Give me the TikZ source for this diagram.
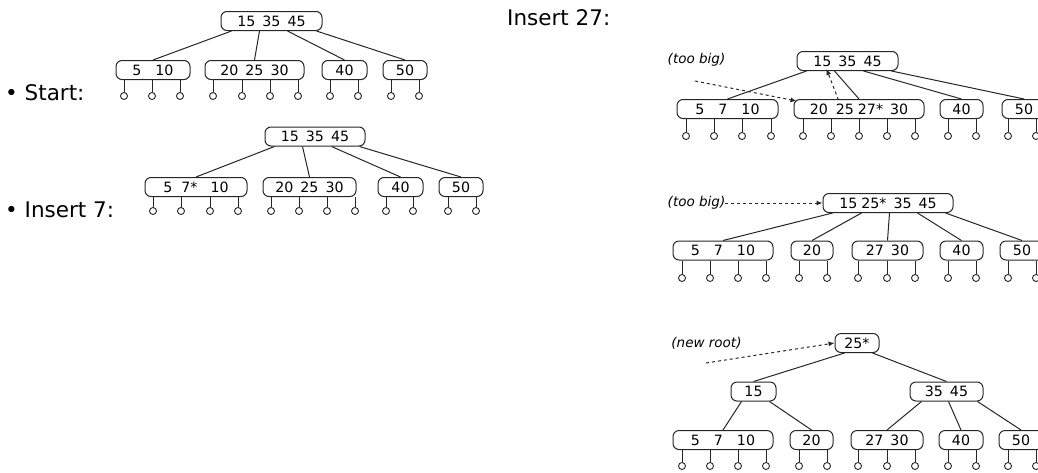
\documentclass[tikz,border=0pt]{standalone}
\usepackage{fontspec}
\setmainfont{DejaVu Sans}
\usetikzlibrary{calc,arrows.meta}

% a row of leaf pointers hanging below a key box
\newcommand\leafrow[3]{%
  \foreach \x [count=\i] in {#3} {%
    \node[leaf] (#1-\i) at (\x,#2) {};
    \draw[link] (#1-\i.north) -- (#1-\i |- #1.south);
  }}

\begin{document}
\begin{tikzpicture}[x=1pt,y=-1pt,
  keybox/.style={draw=black!85, line width=1pt, rounded corners=6pt, inner sep=0pt,
    minimum height=19pt, font=\fontsize{14.2}{16}\selectfont},
  leaf/.style={draw=black!85, line width=0.9pt, circle, inner sep=0pt, minimum size=7pt},
  link/.style={draw=black!85, line width=1pt},
  pointer/.style={draw=black!85, line width=1pt, dash pattern=on 3pt off 3pt,
    -{Latex[length=6pt,width=5pt]}},
  heading/.style={anchor=west, inner sep=0pt, font=\fontsize{21.5}{24}\selectfont},
  remark/.style={inner sep=0pt, font=\fontsize{13.5}{15}\selectfont\itshape}]
\useasboundingbox (0,0) rectangle (1038,472);

% ---------- headings ----------
\node[heading] (hstart) at (5,93) {\textbullet\ Start:};
\node[heading] (hseven) at (5,210) {\textbullet\ Insert 7:};
\node[heading] (htwenty) at (507,18) {Insert 27:};

% ---------- start tree ----------
\node[keybox, minimum width=101pt] (S) at (271.5,21) {15\hspace{7pt}35\hspace{7pt}45};
\node[keybox, minimum width=74pt]  (Sa) at (153,70) {5\hspace{14pt}10};
\node[keybox, minimum width=99pt]  (Sb) at (254.5,70) {20\hspace{7pt}25\hspace{7pt}30};
\node[keybox, minimum width=45pt]  (Sc) at (344.5,70) {40};
\node[keybox, minimum width=44pt]  (Sd) at (405,70) {50};
\draw[link] (S.south west) ++(11,0) -- (Sa.north);
\draw[link] (S.south west) ++(39,0) -- (Sb.north);
\draw[link] (S.south west) ++(67,0) -- (Sc.north);
\draw[link] (S.south west) ++(96,0) -- (Sd.north);
\leafrow{Sa}{96}{124,152,180}
\leafrow{Sb}{96}{213,242,270,298}
\leafrow{Sc}{96}{330,358}
\leafrow{Sd}{96}{391,419}

% ---------- after inserting 7 ----------
\node[keybox, minimum width=100pt] (I) at (315,136.5) {15\hspace{7pt}35\hspace{7pt}45};
\node[keybox, minimum width=102pt] (Ia) at (196,187) {5\hspace{9pt}7*\hspace{13pt}10};
\node[keybox, minimum width=93pt]  (Ib) at (309.5,187) {20\hspace{7pt}25\hspace{7pt}30};
\node[keybox, minimum width=45pt]  (Ic) at (400.5,187) {40};
\node[keybox, minimum width=44pt]  (Id) at (461,187) {50};
\draw[link] (I.south west) ++(10,0) -- (Ia.north);
\draw[link] (I.south west) ++(38,0) -- (Ib.north);
\draw[link] (I.south west) ++(67,0) -- (Ic.north);
\draw[link] (I.south west) ++(95,0) -- (Id.north);
\leafrow{Ia}{211}{153,181,210,238}
\leafrow{Ib}{211}{271,299,327,355}
\leafrow{Ic}{211}{386,413}
\leafrow{Id}{211}{448,476}

% ---------- insert 27: leaf overflows ----------
\node[keybox, minimum width=101pt] (A) at (847.5,61) {15\hspace{7pt}35\hspace{7pt}45};
\node[keybox, minimum width=101pt] (Aa) at (727.5,109) {5\hspace{14pt}7\hspace{14pt}10};
\node[keybox, minimum width=130pt] (Ab) at (859,109) {20\hspace{8pt}25\hspace{4pt}27*\hspace{7pt}30};
\node[keybox, minimum width=43pt]  (Ac) at (961.5,109) {40};
\node[keybox, minimum width=44pt]  (Ad) at (1024,109) {50};
\draw[link] (A.south west) ++(10,0) -- (Aa.north);
\draw[link] (A.south west) ++(38,0) -- (Ab.north);
\draw[link] (A.south west) ++(67,0) -- (Ac.north);
\draw[link] (A.south west) ++(95,0) -- (Ad.north);
\leafrow{Aa}{136}{686,714,742,771}
\leafrow{Ab}{136}{803,831,859,887,915}
\leafrow{Ac}{136}{948,976}
\leafrow{Ad}{136}{1008,1036}
\node[remark] (tbA) at (696.5,60) {(too big)};
\coordinate (tbAfrom) at (695,81);
\draw[pointer] (tbAfrom) -- ($(Ab.north west)+(3,2)$);
\draw[pointer] ($(Ab.north west)+(45,1)$) -- ($(A.south west)+(30,-2)$);

% ---------- insert 27: root overflows ----------
\node[keybox, minimum width=130pt] (B) at (888,203) {15\hspace{4pt}25*\hspace{7pt}35\hspace{7pt}45};
\node[keybox, minimum width=100pt] (Ba) at (723,250.5) {5\hspace{14pt}7\hspace{14pt}10};
\node[keybox, minimum width=42pt]  (Bb) at (812,250.5) {20};
\node[keybox, minimum width=71pt]  (Bc) at (887.5,250.5) {27\hspace{7pt}30};
\node[keybox, minimum width=43pt]  (Bd) at (961.5,250.5) {40};
\node[keybox, minimum width=44pt]  (Be) at (1022,250.5) {50};
\draw[link] (B.south west) ++(10,0) -- (Ba.north);
\draw[link] (B.south west) ++(39,0) -- (Bb.north);
\draw[link] (B.south west) ++(67,0) -- (Bc.north);
\draw[link] (B.south west) ++(95,0) -- (Bd.north);
\draw[link] (B.south west) ++(123,0) -- (Be.north);
\leafrow{Ba}{278}{682,710,738,766}
\leafrow{Bb}{278}{799,827}
\leafrow{Bc}{278}{858,887,915}
\leafrow{Bd}{278}{948,976}
\leafrow{Be}{278}{1008,1036}
\node[remark] (tbB) at (696.5,203) {(too big)};
\draw[pointer] (tbB.east) -- (B.west);

% ---------- insert 27: new root ----------
\node[keybox, minimum width=44pt]  (C) at (857,343) {25*};
\node[keybox, minimum width=45pt]  (Cl) at (753.5,391.5) {15};
\node[keybox, minimum width=73pt]  (Cr) at (946.5,391.5) {35\hspace{7pt}45};
\node[keybox, minimum width=100pt] (Ca) at (723,440) {5\hspace{14pt}7\hspace{14pt}10};
\node[keybox, minimum width=43pt]  (Cb) at (811.5,440) {20};
\node[keybox, minimum width=72pt]  (Cc) at (887,440) {27\hspace{7pt}30};
\node[keybox, minimum width=44pt]  (Cd) at (961,440) {40};
\node[keybox, minimum width=44pt]  (Ce) at (1021,440) {50};
\draw[link] (C.south west) ++(10,0) -- (Cl.north);
\draw[link] (C.south west) ++(38,0) -- (Cr.north);
\draw[link] (Cl.south west) ++(11,0) -- (Ca.north);
\draw[link] (Cl.south west) ++(39,0) -- (Cb.north);
\draw[link] (Cr.south west) ++(12,0) -- (Cc.north);
\draw[link] (Cr.south west) ++(39,0) -- (Cd.north);
\draw[link] (Cr.south west) ++(68,0) -- (Ce.north);
\leafrow{Ca}{466}{682,710,738,766}
\leafrow{Cb}{466}{799,827}
\leafrow{Cc}{466}{858,887,915}
\leafrow{Cd}{466}{948,976}
\leafrow{Ce}{466}{1008,1036}
\node[remark] (nr) at (706.5,343) {(new root)};
\coordinate (nrfrom) at (706,363);
\draw[pointer] (nrfrom) -- (C.west);
\end{tikzpicture}
\end{document}
